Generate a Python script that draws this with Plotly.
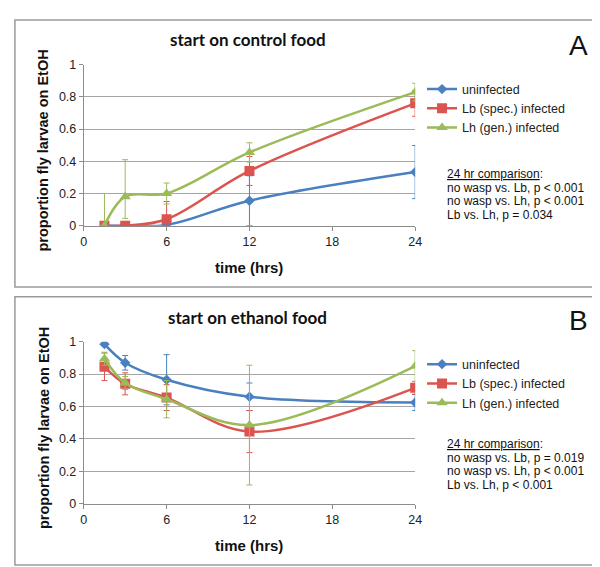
import plotly.graph_objects as go

W, H = 600, 567

# ---- data ----
time_hrs = [1.5, 3, 6, 12, 24]
x_ticks = [0, 6, 12, 18, 24]
series_names = ["uninfected", "Lb (spec.) infected", "Lh (gen.) infected"]

# Panel A: start on control food
a_uninf = [0.0, 0.0, 0.005, 0.155, 0.333]
a_uninf_err = [0.0, 0.0, 0.0, 0.155, 0.165]
a_lb = [0.0, 0.0, 0.04, 0.34, 0.76]
a_lb_err = [0.0, 0.0, 0.11, 0.09, 0.08]
a_lh = [0.0, 0.18, 0.2, 0.455, 0.83]
a_lh_err_plus = [0.2, 0.23, 0.065, 0.06, 0.055]
a_lh_err_minus = [0.0, 0.135, 0.065, 0.06, 0.055]

# Panel B: start on ethanol food
b_uninf = [0.985, 0.87, 0.765, 0.66, 0.625]
b_uninf_err = [0.0, 0.045, 0.155, 0.085, 0.05]
b_lb = [0.845, 0.74, 0.655, 0.445, 0.715]
b_lb_err = [0.085, 0.068, 0.08, 0.13, 0.04]
b_lh = [0.895, 0.745, 0.645, 0.485, 0.85]
b_lh_err = [0.04, 0.04, 0.115, 0.37, 0.095]

a_stats = ["no wasp vs. Lb, p < 0.001", "no wasp vs. Lh, p < 0.001", "Lb vs. Lh, p = 0.034"]
b_stats = ["no wasp vs. Lb, p = 0.019", "no wasp vs. Lh, p < 0.001", "Lb vs. Lh, p < 0.001"]

colors = ["#4A80C0", "#DC544F", "#9BBB59"]
symbols = ["diamond", "square", "triangle-up"]
msizes = [8, 10, 10]

def px_x(p):
    return p / W

def px_y(p):
    return 1 - p / H

fig = go.Figure()

panels = [
    dict(xa="x", ya="y", leg="legend",
         data=[(a_uninf, a_uninf_err, a_uninf_err),
               (a_lb, a_lb_err, a_lb_err),
               (a_lh, a_lh_err_plus, a_lh_err_minus)]),
    dict(xa="x2", ya="y2", leg="legend2",
         data=[(b_uninf, b_uninf_err, b_uninf_err),
               (b_lb, b_lb_err, b_lb_err),
               (b_lh, b_lh_err, b_lh_err)]),
]

for p in panels:
    for i, (vals, ep, em) in enumerate(p["data"]):
        fig.add_trace(go.Scatter(
            x=time_hrs, y=vals, name=series_names[i],
            xaxis=p["xa"], yaxis=p["ya"], legend=p["leg"],
            mode="lines+markers",
            line=dict(color=colors[i], width=2.5, shape="spline", smoothing=1.0),
            marker=dict(symbol=symbols[i], size=msizes[i], color=colors[i]),
            error_y=dict(type="data", array=ep, arrayminus=em, symmetric=False,
                         color=colors[i], thickness=1, width=3),
        ))

# plot area positions (px)
xl, xr = 74, 411
a_top, a_bot = 51, 216
b_top, b_bot = 335, 501

axis_common = dict(
    showline=True, linecolor="#8c8c8c", linewidth=1,
    ticks="outside", ticklen=4, tickcolor="#8c8c8c",
    tickfont=dict(family="Liberation Sans", size=12.5, color="#222"),
    zeroline=False,
)

fig.update_layout(
    width=W, height=H,
    margin=dict(l=0, r=0, t=0, b=0),
    paper_bgcolor="white", plot_bgcolor="white",
    xaxis=dict(domain=[px_x(xl), px_x(xr)], range=[0, 24], tickvals=x_ticks,
               showgrid=False, anchor="y", **axis_common),
    yaxis=dict(domain=[px_y(a_bot), px_y(a_top)], range=[0, 1], dtick=0.2,
               showgrid=True, gridcolor="#a6a6a6", gridwidth=1, anchor="x", **axis_common),
    xaxis2=dict(domain=[px_x(xl), px_x(xr)], range=[0, 24], tickvals=x_ticks,
                showgrid=False, anchor="y2", **axis_common),
    yaxis2=dict(domain=[px_y(b_bot), px_y(b_top)], range=[0, 1], dtick=0.2,
                showgrid=True, gridcolor="#a6a6a6", gridwidth=1, anchor="x2", **axis_common),
    legend=dict(x=px_x(418), y=px_y(61), xanchor="left", yanchor="top",
                font=dict(family="Liberation Sans", size=12.5, color="#222"),
                bgcolor="rgba(0,0,0,0)", tracegroupgap=0, itemwidth=30),
    legend2=dict(x=px_x(418), y=px_y(343), xanchor="left", yanchor="top",
                 font=dict(family="Liberation Sans", size=12.5, color="#222"),
                 bgcolor="rgba(0,0,0,0)", tracegroupgap=0, itemwidth=30),
    showlegend=True,
)

# panel borders
for y0, y1 in [(5, 279), (289, 564)]:
    fig.add_shape(type="rect", xref="paper", yref="paper",
                  x0=px_x(4), x1=px_x(596), y0=px_y(y1), y1=px_y(y0),
                  line=dict(color="#9a9a9a", width=1.5), fillcolor="rgba(0,0,0,0)")

def ann(text, x, y, size, bold=False, family="Liberation Sans", xanchor="center", angle=0, color="#111"):
    fig.add_annotation(text=f"<b>{text}</b>" if bold else text,
                       x=px_x(x), y=px_y(y), xref="paper", yref="paper",
                       showarrow=False, xanchor=xanchor, yanchor="middle",
                       textangle=angle,
                       font=dict(family=family, size=size, color=color))

panel_info = [
    ("start on control food", "A", 25, 31, a_top, a_bot, 259, 163, a_stats),
    ("start on ethanol food", "B", 310, 313, b_top, b_bot, 544, 440, b_stats),
]
for title, letter, ty, ly, top, bot, xty, sy, stats in panel_info:
    ann(title, 241, ty, 17, bold=True, family="Lato")
    ann(letter, 577, ly, 28)
    ann("proportion fly larvae on EtOH", 33, (top + bot) / 2 + 5, 14.5, bold=True, angle=-90)
    ann("time (hrs)", 242, xty, 15, bold=True)
    ann("<u>24 hr comparison</u>:", 441, sy, 12, xanchor="left")
    for k, s in enumerate(stats):
        ann(s, 441, sy + 14 * (k + 1), 12, xanchor="left")

fig.write_html("out.html")
